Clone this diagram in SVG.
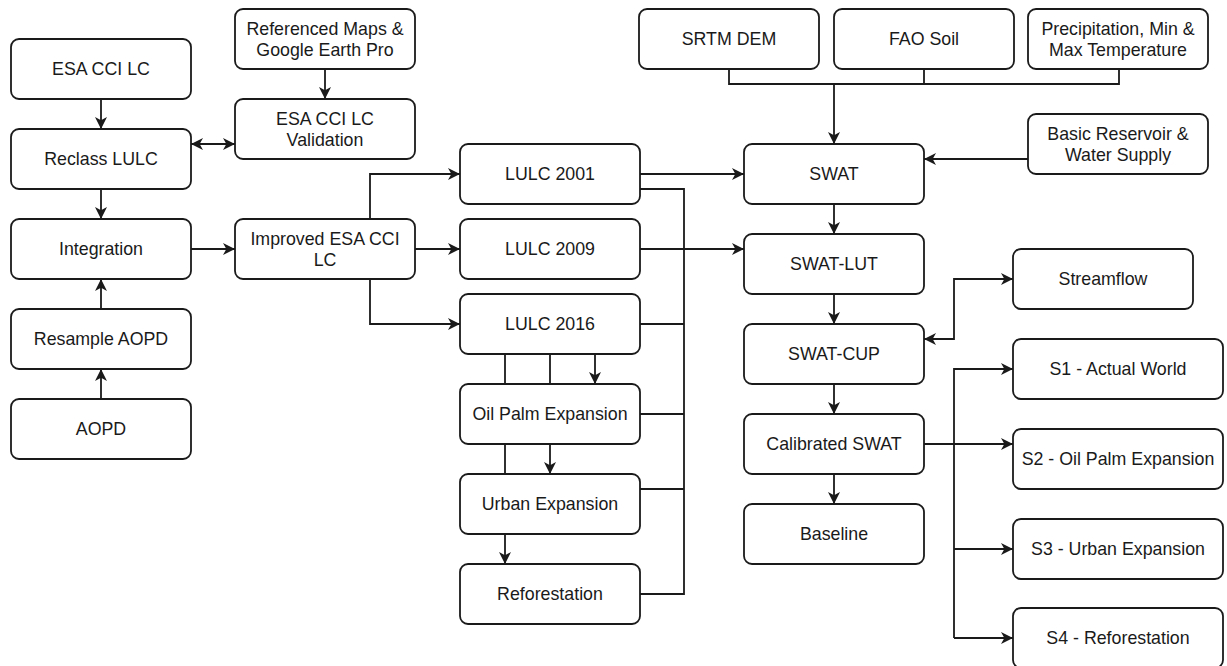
<svg xmlns="http://www.w3.org/2000/svg" width="1227" height="666" viewBox="0 0 1227 666">
<style>
.box{fill:#ffffff;stroke:#1a1a1a;stroke-width:1.8}
.t{font-family:"Liberation Sans",Arial,Helvetica,sans-serif;font-size:17.8px;fill:#1a1a1a;text-anchor:middle;dominant-baseline:central}
.c{fill:none;stroke:#1a1a1a;stroke-width:1.8}
.a{marker-end:url(#arr)}
.b{marker-start:url(#arr);marker-end:url(#arr)}
</style>
<defs>
<marker id="arr" viewBox="0 0 10 10" refX="10" refY="5" markerWidth="14" markerHeight="12" markerUnits="userSpaceOnUse" orient="auto-start-reverse">
<path d="M0,0 L10,5 L0,10 L2.8,5 z" fill="#1a1a1a"/>
</marker>
</defs>
<rect width="1227" height="666" fill="#ffffff"/>
<g id="connectors">
<path class="c a" d="M101,99 V129"/>
<path class="c a" d="M101,189 V219"/>
<path class="c a" d="M101,309 V279"/>
<path class="c a" d="M101,399 V369"/>
<path class="c a" d="M325,69 V99"/>
<path class="c b" d="M191,144 H235"/>
<path class="c a" d="M191,249 H235"/>
<path class="c a" d="M370,219 V174 H460"/>
<path class="c a" d="M415,249 H460"/>
<path class="c a" d="M370,279 V324 H460"/>
<path class="c a" d="M595,354 V384"/>
<path class="c a" d="M550,354 V474"/>
<path class="c a" d="M505,354 V564"/>
<path class="c a" d="M640,174 H744"/>
<path class="c a" d="M640,249 H744"/>
<path class="c" d="M640,189 H684 V594 H640"/>
<path class="c" d="M640,324 H684 M640,414 H684 M640,489 H684"/>
<path class="c" d="M729,69 V84 H1119 V69 M924,69 V84"/>
<path class="c a" d="M834,84 V144"/>
<path class="c a" d="M1028,159 H924"/>
<path class="c a" d="M834,204 V234"/>
<path class="c a" d="M834,294 V324"/>
<path class="c a" d="M834,384 V414"/>
<path class="c a" d="M834,474 V504"/>
<path class="c b" d="M924,339 H954 V279 H1013"/>
<path class="c a" d="M924,444 H1013"/>
<path class="c a" d="M954,638 V369 H1013"/>
<path class="c a" d="M954,549 H1013"/>
<path class="c a" d="M954,638 H1013"/>
</g>
<g id="esa"><rect class="box" x="11" y="39" width="180" height="60" rx="8"/><text class="t" x="101" y="69">ESA CCI LC</text></g>
<g id="reclass"><rect class="box" x="11" y="129" width="180" height="60" rx="8"/><text class="t" x="101" y="159">Reclass LULC</text></g>
<g id="integration"><rect class="box" x="11" y="219" width="180" height="60" rx="8"/><text class="t" x="101" y="249">Integration</text></g>
<g id="resample"><rect class="box" x="11" y="309" width="180" height="60" rx="8"/><text class="t" x="101" y="339">Resample AOPD</text></g>
<g id="aopd"><rect class="box" x="11" y="399" width="180" height="60" rx="8"/><text class="t" x="101" y="429">AOPD</text></g>
<g id="refmaps"><rect class="box" x="235" y="9" width="180" height="60" rx="8"/><text class="t" x="325" y="29">Referenced Maps &amp;</text><text class="t" x="325" y="50">Google Earth Pro</text></g>
<g id="validation"><rect class="box" x="235" y="99" width="180" height="60" rx="8"/><text class="t" x="325" y="119">ESA CCI LC</text><text class="t" x="325" y="140">Validation</text></g>
<g id="improved"><rect class="box" x="235" y="219" width="180" height="60" rx="8"/><text class="t" x="325" y="239">Improved ESA CCI</text><text class="t" x="325" y="260">LC</text></g>
<g id="lulc2001"><rect class="box" x="460" y="144" width="180" height="60" rx="8"/><text class="t" x="550" y="174">LULC 2001</text></g>
<g id="lulc2009"><rect class="box" x="460" y="219" width="180" height="60" rx="8"/><text class="t" x="550" y="249">LULC 2009</text></g>
<g id="lulc2016"><rect class="box" x="460" y="294" width="180" height="60" rx="8"/><text class="t" x="550" y="324">LULC 2016</text></g>
<g id="oilpalm"><rect class="box" x="460" y="384" width="180" height="60" rx="8"/><text class="t" x="550" y="414">Oil Palm Expansion</text></g>
<g id="urban"><rect class="box" x="460" y="474" width="180" height="60" rx="8"/><text class="t" x="550" y="504">Urban Expansion</text></g>
<g id="reforestation"><rect class="box" x="460" y="564" width="180" height="60" rx="8"/><text class="t" x="550" y="594">Reforestation</text></g>
<g id="srtm"><rect class="box" x="639" y="9" width="180" height="60" rx="8"/><text class="t" x="729" y="39">SRTM DEM</text></g>
<g id="fao"><rect class="box" x="834" y="9" width="180" height="60" rx="8"/><text class="t" x="924" y="39">FAO Soil</text></g>
<g id="precip"><rect class="box" x="1028" y="9" width="180" height="60" rx="8"/><text class="t" x="1118" y="29">Precipitation, Min &amp;</text><text class="t" x="1118" y="50">Max Temperature</text></g>
<g id="reservoir"><rect class="box" x="1028" y="114" width="180" height="60" rx="8"/><text class="t" x="1118" y="134">Basic Reservoir &amp;</text><text class="t" x="1118" y="155">Water Supply</text></g>
<g id="swat"><rect class="box" x="744" y="144" width="180" height="60" rx="8"/><text class="t" x="834" y="174">SWAT</text></g>
<g id="swatlut"><rect class="box" x="744" y="234" width="180" height="60" rx="8"/><text class="t" x="834" y="264">SWAT-LUT</text></g>
<g id="swatcup"><rect class="box" x="744" y="324" width="180" height="60" rx="8"/><text class="t" x="834" y="354">SWAT-CUP</text></g>
<g id="calibrated"><rect class="box" x="744" y="414" width="180" height="60" rx="8"/><text class="t" x="834" y="444">Calibrated SWAT</text></g>
<g id="baseline"><rect class="box" x="744" y="504" width="180" height="60" rx="8"/><text class="t" x="834" y="534">Baseline</text></g>
<g id="streamflow"><rect class="box" x="1013" y="249" width="180" height="60" rx="8"/><text class="t" x="1103" y="279">Streamflow</text></g>
<g id="s1"><rect class="box" x="1013" y="339" width="210" height="60" rx="8"/><text class="t" x="1118" y="369">S1 - Actual World</text></g>
<g id="s2"><rect class="box" x="1013" y="429" width="210" height="60" rx="8"/><text class="t" x="1118" y="459">S2 - Oil Palm Expansion</text></g>
<g id="s3"><rect class="box" x="1013" y="519" width="210" height="60" rx="8"/><text class="t" x="1118" y="549">S3 - Urban Expansion</text></g>
<g id="s4"><rect class="box" x="1013" y="608" width="210" height="60" rx="8"/><text class="t" x="1118" y="638">S4 - Reforestation</text></g>
</svg>
